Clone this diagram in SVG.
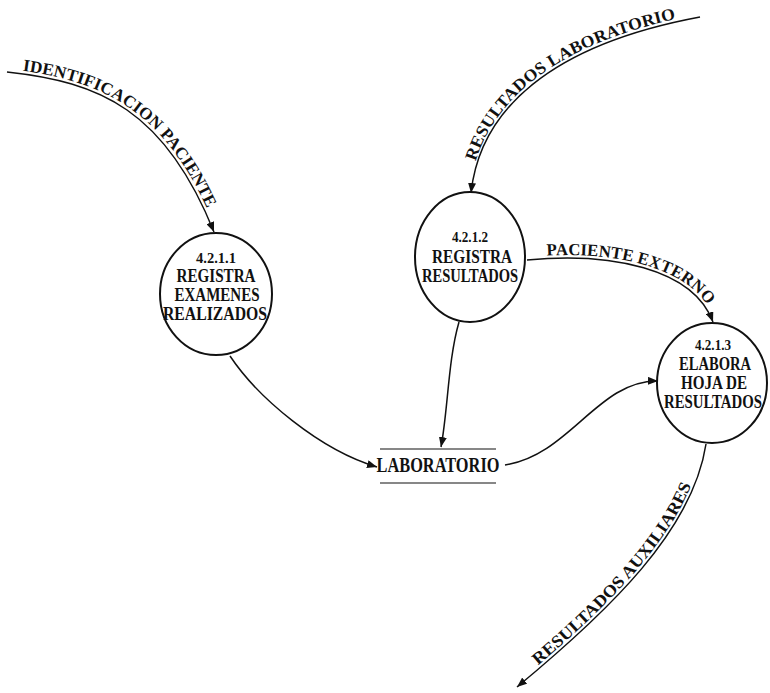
<svg xmlns="http://www.w3.org/2000/svg" xmlns:xlink="http://www.w3.org/1999/xlink" width="770" height="693" viewBox="0 0 770 693">
  <style>
    .bubble { fill: #fff; stroke: #111; stroke-width: 2; }
    .lbl { font-family: "Liberation Serif", "Times New Roman", serif; font-weight: bold; fill: #111; text-anchor: middle; }
    .num { font-size: 14px; }
    .big { font-size: 18px; }
    .flow { fill: none; stroke: #111; stroke-width: 1.5; marker-end: url(#arrow); }
    .flowtxt { font-family: "Liberation Serif", "Times New Roman", serif; font-weight: bold; font-size: 17px; fill: #111; }
    .store { stroke: #111; stroke-width: 1.2; }
  </style>
  <defs>
    <marker id="arrow" viewBox="0 0 10 8" refX="10" refY="4" markerWidth="10" markerHeight="8" markerUnits="userSpaceOnUse" orient="auto">
      <path d="M0,0 L10,4 L0,8 Z" fill="#111"/>
    </marker>
    <!-- baselines for the flow labels, drawn in reading direction -->
    <path id="tp-ident" d="M7,72 C 100,82 165,110 214,232"/>
    <path id="tp-reslab" d="M472,195 C 480,110 550,45 700,17"/>
    <path id="tp-pacext" d="M527,260 C 610,252 693,268 713,322"/>
    <path id="tp-resaux" d="M517,687 C 610,610 693,530 706,444"/>
  </defs>
  <rect width="770" height="693" fill="#fff"/>

  <!-- data flows -->
  <g id="connectors">
    <path class="flow" d="M7,72 C 100,82 165,110 214,232"/>
    <path class="flow" d="M700,17 C 550,45 480,110 471,193"/>
    <path class="flow" d="M527,260 C 610,252 693,268 713,322"/>
    <path class="flow" d="M230,356 C 258,398 320,450 377,467"/>
    <path class="flow" d="M459,322 C 448,360 448,410 441,447"/>
    <path class="flow" d="M505,465 C 570,455 598,380 658,381"/>
    <path class="flow" d="M706,444 C 693,530 610,610 517,687"/>

    <text class="flowtxt" dy="-3"><textPath href="#tp-ident" startOffset="15" textLength="240" lengthAdjust="spacingAndGlyphs">IDENTIFICACION PACIENTE</textPath></text>
    <text class="flowtxt" dy="-3"><textPath href="#tp-reslab" startOffset="33" textLength="255" lengthAdjust="spacingAndGlyphs">RESULTADOS LABORATORIO</textPath></text>
    <text class="flowtxt" dy="-3"><textPath href="#tp-pacext" startOffset="20" textLength="172" lengthAdjust="spacingAndGlyphs">PACIENTE EXTERNO</textPath></text>
    <text class="flowtxt" dy="-3"><textPath href="#tp-resaux" startOffset="30" textLength="240" lengthAdjust="spacingAndGlyphs">RESULTADOS AUXILIARES</textPath></text>
  </g>

  <!-- process 4.2.1.1 -->
  <g id="p4211">
    <ellipse class="bubble" cx="216" cy="294" rx="56" ry="61"/>
    <text class="lbl num" x="216" y="263" textLength="40" lengthAdjust="spacingAndGlyphs">4.2.1.1</text>
    <text class="lbl big" x="216" y="282" textLength="79" lengthAdjust="spacingAndGlyphs">REGISTRA</text>
    <text class="lbl big" x="217" y="301" textLength="85" lengthAdjust="spacingAndGlyphs">EXAMENES</text>
    <text class="lbl big" x="215" y="320" textLength="104" lengthAdjust="spacingAndGlyphs">REALIZADOS</text>
  </g>

  <!-- process 4.2.1.2 -->
  <g id="p4212">
    <ellipse class="bubble" cx="470" cy="257" rx="55" ry="65"/>
    <text class="lbl num" x="470" y="242" textLength="36" lengthAdjust="spacingAndGlyphs">4.2.1.2</text>
    <text class="lbl big" x="472" y="263" textLength="80" lengthAdjust="spacingAndGlyphs">REGISTRA</text>
    <text class="lbl big" x="470" y="282" textLength="96" lengthAdjust="spacingAndGlyphs">RESULTADOS</text>
  </g>

  <!-- process 4.2.1.3 -->
  <g id="p4213">
    <ellipse class="bubble" cx="712" cy="383" rx="55" ry="60"/>
    <text class="lbl num" x="713" y="350" textLength="36" lengthAdjust="spacingAndGlyphs">4.2.1.3</text>
    <text class="lbl big" x="715" y="370" textLength="72" lengthAdjust="spacingAndGlyphs">ELABORA</text>
    <text class="lbl big" x="714" y="389" textLength="66" lengthAdjust="spacingAndGlyphs">HOJA DE</text>
    <text class="lbl big" x="713" y="408" textLength="98" lengthAdjust="spacingAndGlyphs">RESULTADOS</text>
  </g>

  <!-- data store LABORATORIO -->
  <g id="laboratorio">
    <line class="store" x1="380" y1="449" x2="496" y2="449"/>
    <line class="store" x1="380" y1="483" x2="496" y2="483"/>
    <text class="lbl" style="font-size:20px" x="438" y="472" textLength="123" lengthAdjust="spacingAndGlyphs">LABORATORIO</text>
  </g>
</svg>
